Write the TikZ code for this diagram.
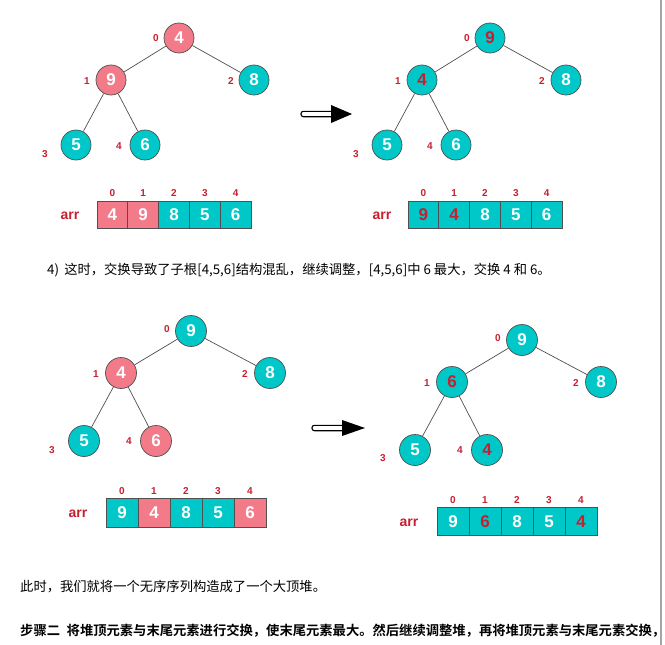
\documentclass[tikz,border=0pt]{standalone}
\usepackage{fontspec}
\setmainfont{Liberation Sans}
\newfontfamily\cjk[BoldFont={Noto Sans CJK SC Bold}]{Noto Sans CJK SC}
\definecolor{tealc}{RGB}{0,200,200}
\definecolor{pinkc}{RGB}{243,123,137}
\definecolor{redc}{RGB}{198,32,48}
\definecolor{linec}{RGB}{80,80,80}
\tikzset{
  x=1pt, y=-1pt,
  tnode/.style={circle, draw=linec, line width=0.7pt, minimum size=30pt, inner sep=0pt,
    font=\bfseries\fontsize{17}{17}\selectfont, text=white},
  tnodeb/.style={tnode, minimum size=31pt},
  tl/.style={fill=tealc},
  pk/.style={fill=pinkc},
  rt/.style={text=redc},
  idx/.style={font=\bfseries\fontsize{10}{10}\selectfont, text=redc, inner sep=0pt},
  arrlab/.style={font=\bfseries\fontsize{14}{14}\selectfont, text=redc, inner sep=0pt},
  cella/.style={draw=linec, line width=0.7pt, minimum width=30.8pt, minimum height=27pt, inner sep=0pt,
    font=\bfseries\fontsize{17}{17}\selectfont, text=white},
  cellb/.style={cella, minimum width=32pt, minimum height=28.5pt},
  edge/.style={draw=linec, line width=0.7pt},
  para/.style={anchor=west, inner sep=0pt, font=\cjk\fontsize{13.3}{14}\selectfont, text=black},
  shaft/.style={draw=black, fill=white, line width=1.1pt, rounded corners=2.4pt},
  head/.style={fill=black},
}
\begin{document}
\begin{tikzpicture}
\useasboundingbox (0,0) rectangle (665,645);
\fill[white] (0,0) rectangle (665,645);
\draw[gray!70, line width=1.6pt] (661,0) -- (661,645);

% ---------- Panel 1 ----------
\node[tnode,pk] (a0) at (179,38) {4};
\node[tnode,pk] (a1) at (111,80) {9};
\node[tnode,tl] (a2) at (254,80) {8};
\node[tnode,tl] (a3) at (76,145) {5};
\node[tnode,tl] (a4) at (145,145) {6};
\draw[edge] (a0) -- (a1); \draw[edge] (a0) -- (a2);
\draw[edge] (a1) -- (a3); \draw[edge] (a1) -- (a4);
\node[idx] (la0) at (156,38) {0};
\node[idx] (la1) at (87,81) {1};
\node[idx] (la2) at (231,81) {2};
\node[idx] (la3) at (45,154) {3};
\node[idx] (la4) at (119,146) {4};
\node[arrlab] (arrA) at (70,216) {arr};
\node[cella,pk] (ca0) at (112.4,214.5) {4};
\node[cella,pk] (ca1) at (143.2,214.5) {9};
\node[cella,tl] (ca2) at (174,214.5) {8};
\node[cella,tl] (ca3) at (204.8,214.5) {5};
\node[cella,tl] (ca4) at (235.6,214.5) {6};
\foreach \i in {0,...,4} \node[idx] (ia\i) at ([yshift=21.5pt]ca\i.center) {\i};

% arrow 1
\draw[shaft] (301,111.3) rectangle (336,116.7);
\fill[head] (331,105) -- (352,114) -- (331,123) -- cycle;

% ---------- Panel 2 ----------
\node[tnode,tl,rt] (b0) at (490,38) {9};
\node[tnode,tl,rt] (b1) at (422,80) {4};
\node[tnode,tl] (b2) at (566,80) {8};
\node[tnode,tl] (b3) at (387,145) {5};
\node[tnode,tl] (b4) at (456,145) {6};
\draw[edge] (b0) -- (b1); \draw[edge] (b0) -- (b2);
\draw[edge] (b1) -- (b3); \draw[edge] (b1) -- (b4);
\node[idx] (lb0) at (467,38) {0};
\node[idx] (lb1) at (398,81) {1};
\node[idx] (lb2) at (542,81) {2};
\node[idx] (lb3) at (356,154) {3};
\node[idx] (lb4) at (430,146) {4};
\node[arrlab] (arrB) at (382,216) {arr};
\node[cella,tl,rt] (cb0) at (423.4,214.5) {9};
\node[cella,tl,rt] (cb1) at (454.2,214.5) {4};
\node[cella,tl] (cb2) at (485,214.5) {8};
\node[cella,tl] (cb3) at (515.8,214.5) {5};
\node[cella,tl] (cb4) at (546.6,214.5) {6};
\foreach \i in {0,...,4} \node[idx] (ib\i) at ([yshift=21.5pt]cb\i.center) {\i};

% ---------- Text 1 ----------
\node[para] (t1) at (47,270) {4)\, 这时，交换导致了子根[4,5,6]结构混乱，继续调整，[4,5,6]中 6 最大，交换 4 和 6。};

% ---------- Panel 3 ----------
\node[tnodeb,tl] (c0) at (191,331) {9};
\node[tnodeb,pk] (c1) at (121,373) {4};
\node[tnodeb,tl] (c2) at (270,373) {8};
\node[tnodeb,tl] (c3) at (84,441) {5};
\node[tnodeb,pk] (c4) at (156,441) {6};
\draw[edge] (c0) -- (c1); \draw[edge] (c0) -- (c2);
\draw[edge] (c1) -- (c3); \draw[edge] (c1) -- (c4);
\node[idx] (lc0) at (167,329) {0};
\node[idx] (lc1) at (96,374) {1};
\node[idx] (lc2) at (245,374) {2};
\node[idx] (lc3) at (52,450) {3};
\node[idx] (lc4) at (129,441) {4};
\node[arrlab] (arrC) at (78,514) {arr};
\node[cellb,tl] (cc0) at (122,513) {9};
\node[cellb,pk] (cc1) at (154,513) {4};
\node[cellb,tl] (cc2) at (186,513) {8};
\node[cellb,tl] (cc3) at (218,513) {5};
\node[cellb,pk] (cc4) at (250,513) {6};
\foreach \i in {0,...,4} \node[idx] (ic\i) at ([yshift=21.5pt]cc\i.center) {\i};

% arrow 2
\draw[shaft] (312,425.3) rectangle (347,430.7);
\fill[head] (342,420) -- (365,428) -- (342,436) -- cycle;

% ---------- Panel 4 ----------
\node[tnodeb,tl] (d0) at (522,340) {9};
\node[tnodeb,tl,rt] (d1) at (452,382) {6};
\node[tnodeb,tl] (d2) at (601,382) {8};
\node[tnodeb,tl] (d3) at (415,450) {5};
\node[tnodeb,tl,rt] (d4) at (487,450) {4};
\draw[edge] (d0) -- (d1); \draw[edge] (d0) -- (d2);
\draw[edge] (d1) -- (d3); \draw[edge] (d1) -- (d4);
\node[idx] (ld0) at (498,338) {0};
\node[idx] (ld1) at (427,383) {1};
\node[idx] (ld2) at (576,383) {2};
\node[idx] (ld3) at (383,458) {3};
\node[idx] (ld4) at (460,450) {4};
\node[arrlab] (arrD) at (409,523) {arr};
\node[cellb,tl] (cd0) at (453,521.5) {9};
\node[cellb,tl,rt] (cd1) at (485,521.5) {6};
\node[cellb,tl] (cd2) at (517,521.5) {8};
\node[cellb,tl] (cd3) at (549,521.5) {5};
\node[cellb,tl,rt] (cd4) at (581,521.5) {4};
\foreach \i in {0,...,4} \node[idx] (id\i) at ([yshift=21.5pt]cd\i.center) {\i};

% ---------- Text 2, 3 ----------
\node[para] (t2) at (20,587) {此时，我们就将一个无序序列构造成了一个大顶堆。};
\node[para, font=\cjk\bfseries\fontsize{13.3}{14}\selectfont] (t3) at (20,631) {步骤二\enspace 将堆顶元素与末尾元素进行交换，使末尾元素最大。然后继续调整堆，再将堆顶元素与末尾元素交换，};
\end{tikzpicture}
\end{document}
